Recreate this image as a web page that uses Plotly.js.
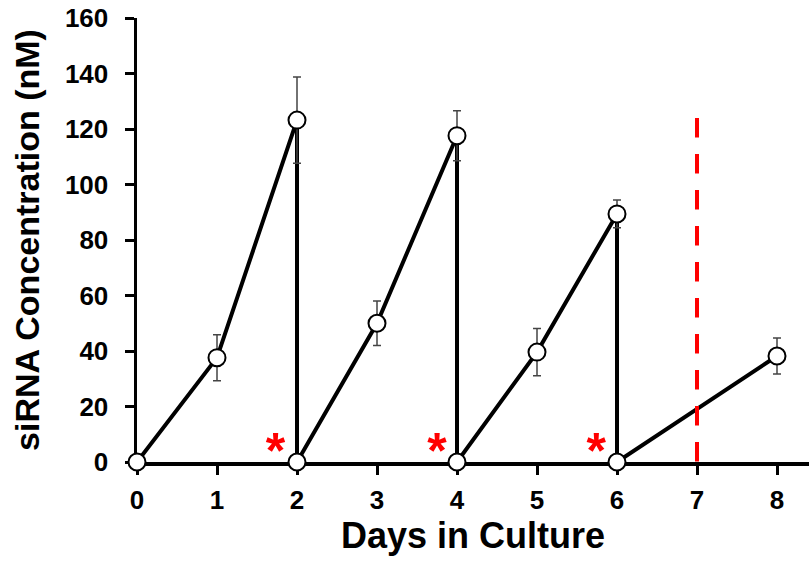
<!DOCTYPE html>
<html>
<head>
<meta charset="utf-8">
<script src="https://cdn.plot.ly/plotly-3.0.1.min.js"></script>
<style>html,body{margin:0;padding:0;background:#fff;}#chart{width:809px;height:561px;}</style>
</head>
<body>
<div id="chart"></div>
<script>
// Data
var days = [0, 1, 2, 2, 3, 4, 4, 5, 6, 6, 8];
var conc = [0, 37.6, 123.2, 0, 50, 117.6, 0, 39.6, 89.4, 0, 38.2];
var errs = [0, 8.3, 15.5, 0, 8, 9, 0, 8.5, 5, 0, 6.5];
var cutoffDay = [7, 7];
var cutoffConc = [124, 0];
var starDays = [1.73, 3.75, 5.74];
var starConc = [2.5, 2.5, 2.5];
var xTicks = [0, 1, 2, 3, 4, 5, 6, 7, 8];
var yTicks = [0, 20, 40, 60, 80, 100, 120, 140, 160];

var nzX = [], nzY = [], nzE = [], zX = [], zY = [];
for (var i = 0; i < days.length; i++) {
  if (errs[i] > 0) { nzX.push(days[i]); nzY.push(conc[i]); nzE.push(errs[i]); }
  else { zX.push(days[i]); zY.push(conc[i]); }
}

var FONT = 'Liberation Sans, Arial, sans-serif';
var traces = [
  {x: days, y: conc, mode: 'lines', line: {color: '#000', width: 4}, cliponaxis: false, hoverinfo: 'skip'},
  {x: cutoffDay, y: cutoffConc, mode: 'lines', line: {color: '#ff0000', width: 4, dash: '19.5px,16.5px'}, cliponaxis: false},
  {x: nzX, y: nzY, mode: 'markers', cliponaxis: false,
   marker: {size: 17, color: '#fff', line: {color: '#000', width: 2}},
   error_y: {type: 'data', array: nzE, visible: true, color: '#444', thickness: 1.5, width: 4}},
  {x: zX, y: zY, mode: 'markers', cliponaxis: false,
   marker: {size: 17, color: '#fff', line: {color: '#000', width: 2}}},
  {x: starDays, y: starConc, mode: 'text', text: starDays.map(function(){return '*';}),
   textposition: 'middle center', cliponaxis: false,
   textfont: {family: FONT, size: 50, color: '#ff0000', weight: 'bold'}}
];

var layout = {
  width: 809, height: 561,
  margin: {l: 137, r: 0, t: 18, b: 99},
  paper_bgcolor: '#fff', plot_bgcolor: '#fff',
  showlegend: false,
  font: {family: FONT, color: '#000'},
  xaxis: {
    range: [0, 8.4], tickvals: xTicks, ticktext: xTicks.map(String),
    showgrid: false, zeroline: false, showline: true, linecolor: '#000', linewidth: 3.5,
    ticks: 'outside', ticklen: 9, tickwidth: 3, tickcolor: '#000',
    tickfont: {family: FONT, size: 26, weight: 'bold'},
    ticklabelstandoff: 3,
    layer: 'below traces',
    title: {text: 'Days in Culture', font: {family: FONT, size: 36, weight: 'bold'}, standoff: 8}
  },
  yaxis: {
    range: [0, 160], tickvals: yTicks, ticktext: yTicks.map(String),
    showgrid: false, zeroline: false, showline: true, linecolor: '#000', linewidth: 3.5,
    ticks: 'outside', ticklen: 9, tickwidth: 3, tickcolor: '#000',
    tickfont: {family: FONT, size: 26, weight: 'bold'},
    ticklabelstandoff: 11,
    layer: 'below traces',
    title: {text: 'siRNA Concentration (nM)', font: {family: FONT, size: 34, weight: 'bold'}, standoff: 16}
  }
};

Plotly.newPlot('chart', traces, layout, {displayModeBar: false, staticPlot: true});
</script>
</body>
</html>
